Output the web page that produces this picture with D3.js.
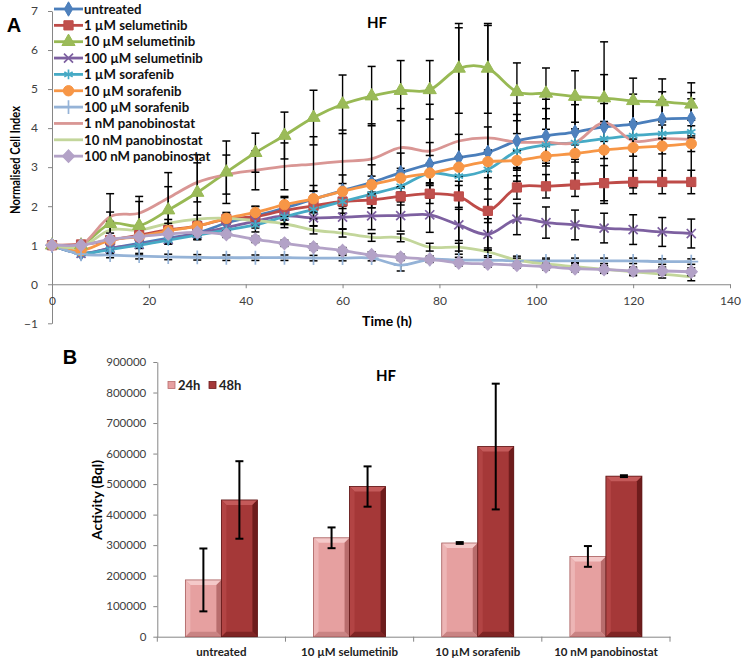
<!DOCTYPE html>
<html><head><meta charset="utf-8">
<script src="https://cdn.jsdelivr.net/npm/d3@7"></script>
<style>
body{margin:0;background:#fff}
svg{display:block}
text{font-family:Lato,"Open Sans",sans-serif}
</style>
</head><body>
<svg id="c" width="746" height="665"></svg>
<script>
// ---------- Panel A data ----------
const times = [0,6,12,18,24,30,36,42,48,54,60,66,72,78,84,90,96,102,108,114,120,126,132];
const seriesNames = ["untreated","1 µM selumetinib","10 µM selumetinib","100 µM selumetinib","1 µM sorafenib","10 µM sorafenib","100 µM sorafenib","1 nM panobinostat","10 nM panobinostat","100 nM panobinostat"];
const untreated = [1,0.79,0.92,1.05,1.18,1.31,1.57,1.75,1.95,2.18,2.40,2.61,2.86,3.08,3.24,3.38,3.67,3.80,3.90,4.03,4.10,4.23,4.25];
const selumetinib1 = [1,1.02,1.13,1.26,1.39,1.49,1.67,1.73,1.89,2.01,2.12,2.16,2.25,2.32,2.25,1.88,2.48,2.51,2.55,2.59,2.62,2.62,2.62];
const selumetinib10 = [1,1.0,1.55,1.5,1.9,2.35,2.87,3.37,3.81,4.27,4.61,4.82,4.96,4.98,5.53,5.53,4.93,4.89,4.81,4.77,4.70,4.67,4.61];
const selumetinib100 = [1,0.79,0.92,1.02,1.15,1.30,1.45,1.62,1.75,1.70,1.72,1.75,1.76,1.78,1.52,1.28,1.67,1.58,1.52,1.44,1.40,1.34,1.30];
const sorafenib1 = [1,0.79,0.89,1.0,1.13,1.26,1.39,1.52,1.73,1.92,2.12,2.31,2.51,2.85,2.77,2.94,3.41,3.57,3.63,3.73,3.81,3.86,3.90];
const sorafenib10 = [1,0.86,1.13,1.22,1.37,1.49,1.69,1.84,2.04,2.19,2.38,2.55,2.72,2.85,3.0,3.14,3.17,3.28,3.35,3.44,3.50,3.54,3.60];
const sorafenib100 = [1,0.77,0.75,0.72,0.70,0.69,0.68,0.68,0.68,0.67,0.67,0.67,0.49,0.64,0.62,0.62,0.60,0.60,0.60,0.60,0.60,0.58,0.58];
const panobinostat1 = [1,1.0,1.73,1.82,2.21,2.61,2.81,2.92,3.02,3.08,3.15,3.21,3.50,3.41,3.67,3.75,3.64,3.64,3.63,4.14,3.67,3.73,3.71];
const panobinostat10 = [1,0.96,1.39,1.39,1.56,1.67,1.69,1.63,1.55,1.39,1.31,1.20,1.19,0.95,0.95,0.83,0.62,0.52,0.45,0.38,0.32,0.26,0.19];
const panobinostat100 = [1,1.0,1.15,1.22,1.29,1.33,1.28,1.15,1.05,0.95,0.86,0.75,0.69,0.64,0.55,0.52,0.49,0.45,0.40,0.38,0.34,0.34,0.32];
// error bars (±)
const errUntreated = [0,0.05,0.08,0.1,0.12,0.15,0.2,0.25,0.3,0.35,0.4,0.45,0.5,0.55,0.6,0.65,0.68,0.7,0.7,0.6,0.55,0.5,0.5];
const errSelumetinib1 = [0,0.05,0.08,0.1,0.1,0.1,0.12,0.12,0.15,0.15,0.18,0.2,0.22,0.25,0.28,0.3,0.3,0.3,0.3,0.45,0.3,0.3,0.3];
const errSelumetinib10 = [0,0.05,0.77,0.75,0.6,0.97,0.8,0.5,0.6,0.7,0.75,0.76,0.77,0.75,1.15,1.15,0.74,0.65,0.66,0.6,0.58,0.59,0.55];
const errSelumetinib100 = [0,0.05,0.08,0.1,0.12,0.15,0.15,0.18,0.2,0.2,0.3,0.35,0.4,0.45,0.4,0.4,0.4,0.4,0.38,0.38,0.38,0.37,0.37];
const errSorafenib1 = [0,0.05,0.06,0.08,0.1,0.12,0.15,0.18,0.2,0.25,0.3,0.35,0.4,0.45,0.5,0.5,0.45,0.4,0.35,0.35,0.35,0.3,0.3];
const errSorafenib10 = [0,0.05,0.08,0.1,0.1,0.12,0.15,0.15,0.18,0.2,0.2,0.22,0.25,0.25,0.25,0.25,0.25,0.25,0.22,0.22,0.22,0.2,0.2];
const errSorafenib100 = [0,0.06,0.07,0.07,0.07,0.07,0.07,0.07,0.07,0.07,0.07,0.07,0.15,0.07,0.07,0.07,0.07,0.07,0.07,0.07,0.07,0.07,0.07];
const errPanobinostat1 = [0,0.05,0.12,0.3,0.65,0.5,0.5,0.5,0.6,0.7,0.8,0.9,1.0,1.2,2.9,2.88,1.0,1.1,1.1,2.07,1.2,1.2,1.2];
const errPanobinostat10 = [0,0.05,0.08,0.08,0.1,0.1,0.1,0.1,0.1,0.1,0.1,0.1,0.1,0.1,0.1,0.1,0.1,0.1,0.1,0.1,0.1,0.1,0.1];
const errPanobinostat100 = [0,0.05,0.08,0.08,0.08,0.08,0.08,0.08,0.08,0.08,0.08,0.08,0.08,0.08,0.08,0.08,0.08,0.08,0.08,0.08,0.1,0.1,0.1];
const xTicksA = [0,20,40,60,80,100,120,140];
const yTicksA = [-1,0,1,2,3,4,5,6,7];

// ---------- Panel B data ----------
const categoriesB = ["untreated","10 µM selumetinib","10 µM sorafenib","10 nM panobinostat"];
const seriesB = ["24h","48h"];
const values24h = [186000,324000,307000,263000];
const values48h = [448000,492000,623000,526000];
const err24h = [103000,34000,3000,34000];
const err48h = [127000,66000,206000,3000];
const yTicksB = [0,100000,200000,300000,400000,500000,600000,700000,800000,900000];

// ---------- styling ----------
const seriesStyle = [
  {color:"#4A7EBB", fill:"#4F81BD", marker:"diamond"},
  {color:"#BE4B48", fill:"#C0504D", marker:"square"},
  {color:"#98B954", fill:"#9BBB59", marker:"triangle"},
  {color:"#7D60A0", fill:"#8064A2", marker:"x"},
  {color:"#46AAC5", fill:"#4BACC6", marker:"asterisk"},
  {color:"#F79646", fill:"#F79646", marker:"circle"},
  {color:"#95B3D7", fill:"#95B3D7", marker:"plus"},
  {color:"#D99694", fill:"#D99694", marker:"none"},
  {color:"#C3D69B", fill:"#C3D69B", marker:"none"},
  {color:"#B3A2C7", fill:"#B3A2C7", marker:"diamondWide"}
];
const seriesVals = [untreated,selumetinib1,selumetinib10,selumetinib100,sorafenib1,sorafenib10,sorafenib100,panobinostat1,panobinostat10,panobinostat100];
const seriesErr = [errUntreated,errSelumetinib1,errSelumetinib10,errSelumetinib100,errSorafenib1,errSorafenib10,errSorafenib100,errPanobinostat1,errPanobinostat10,errPanobinostat100];

const svg = d3.select("#c");
const axisColor = "#868686";
const tickTextColor = "#404040";

// ================= Panel A =================
const xA = d3.scaleLinear().domain([0,140]).range([52,730]);
const yA = d3.scaleLinear().domain([-1,7]).range([323.3,11]);

const gA = svg.append("g");
const yAxA = gA.append("g").attr("transform",`translate(${xA(0)},0)`)
  .call(d3.axisLeft(yA).tickValues(yTicksA).tickSize(4).tickPadding(10).tickSizeOuter(0));
const xAxA = gA.append("g").attr("transform",`translate(0,${yA(0)})`)
  .call(d3.axisBottom(xA).tickValues(xTicksA).tickSize(4).tickPadding(8).tickSizeOuter(0));
[yAxA,xAxA].forEach(a=>{
  a.select(".domain").attr("stroke",axisColor);
  a.selectAll(".tick line").attr("stroke",axisColor);
  a.selectAll(".tick text").attr("fill",tickTextColor).style("font-size","12px").style("font-family","Lato, sans-serif");
});

function markerPath(type, size){
  const map = {diamond:d3.symbolDiamond, square:d3.symbolSquare, triangle:d3.symbolTriangle,
    circle:d3.symbolCircle, x:d3.symbolX, asterisk:d3.symbolAsterisk, plus:d3.symbolPlus, diamondWide:d3.symbolDiamond};
  return d3.symbol().type(map[type]).size(size)();
}
function drawMarker(g, st, cx, cy){
  const t = st.marker;
  if(t==="none") return;
  const sizes = {diamond:60, square:85, triangle:75, circle:85, x:55, asterisk:65, plus:65, diamondWide:55};
  const p = g.append("path").attr("d", markerPath(t, sizes[t]));
  if(t==="x"||t==="asterisk"||t==="plus"){
    p.attr("fill","none").attr("stroke",st.color).attr("stroke-width",1.7);
  } else {
    p.attr("fill",st.fill).attr("stroke",st.color).attr("stroke-width",1);
  }
  if(t==="diamondWide") p.attr("transform",`translate(${cx},${cy}) scale(1.5,0.9)`);
  else p.attr("transform",`translate(${cx},${cy})`);
}

const line = d3.line().x((d,i)=>xA(times[i])).y(d=>yA(d)).curve(d3.curveCatmullRom.alpha(0));
const linesG = gA.append("g");
const errG = gA.append("g");
const markG = gA.append("g");

seriesVals.forEach((vals,si)=>{
  const st = seriesStyle[si];
  linesG.append("path").datum(vals).attr("d",line)
    .attr("fill","none").attr("stroke",st.color).attr("stroke-width",2.8).attr("stroke-linejoin","round");
  const errs = seriesErr[si];
  vals.forEach((v,i)=>{
    const e = errs[i];
    if(!e) return;
    const cx = xA(times[i]);
    const y1 = yA(v+e), y2 = yA(v-e);
    errG.append("line").attr("x1",cx).attr("x2",cx).attr("y1",y1).attr("y2",y2).attr("stroke","#000").attr("stroke-width",1.4);
    [y1,y2].forEach(yy=>errG.append("line").attr("x1",cx-4).attr("x2",cx+4).attr("y1",yy).attr("y2",yy).attr("stroke","#000").attr("stroke-width",1.5));
  });
  vals.forEach((v,i)=>drawMarker(markG, st, xA(times[i]), yA(v)));
});

// legend
const legA = gA.append("g");
seriesNames.forEach((name,i)=>{
  const st = seriesStyle[i];
  const cy = 9 + i*16.35;
  legA.append("line").attr("x1",54).attr("x2",83).attr("y1",cy).attr("y2",cy).attr("stroke",st.color).attr("stroke-width",2.8);
  drawMarker(legA, st, 68.5, cy);
  legA.append("text").attr("x",84).attr("y",cy).attr("dy","0.36em").text(name)
    .style("font-size","13.2px").style("font-weight","bold").attr("fill","#111");
});

// titles
gA.append("text").attr("x",377).attr("y",23).attr("dy","0.36em").attr("text-anchor","middle").text("HF")
  .style("font-size","15px").style("font-weight","bold");
gA.append("text").attr("x",14).attr("y",25).attr("dy","0.36em").attr("text-anchor","middle").text("A")
  .style("font-size","20px").style("font-weight","bold").style("font-family","'Liberation Sans',Arial,sans-serif");
gA.append("text").attr("transform","translate(15,160) rotate(-90)").attr("dy","0.36em").attr("text-anchor","middle")
  .attr("textLength",108).attr("lengthAdjust","spacingAndGlyphs")
  .text("Normalised Cell Index").style("font-size","12.5px").style("font-weight","bold");
gA.append("text").attr("x",387).attr("y",321).attr("dy","0.36em").attr("text-anchor","middle").text("Time (h)")
  .style("font-size","14px").style("font-weight","bold");

// ================= Panel B =================
const x0 = d3.scaleBand().domain(categoriesB).range([157.3,670]).paddingInner(0).paddingOuter(0);
const x1 = d3.scaleBand().domain(seriesB).range([0,x0.bandwidth()]).paddingInner(0).paddingOuter(0.78);
const yB = d3.scaleLinear().domain([0,900000]).range([636.7,362]);
const gB = svg.append("g");

const yAxB = gB.append("g").attr("transform",`translate(157.3,0)`)
  .call(d3.axisLeft(yB).tickValues(yTicksB).tickFormat(d3.format("d")).tickSize(4).tickPadding(7).tickSizeOuter(0));
const xAxB = gB.append("g").attr("transform",`translate(0,${yB(0)})`)
  .call(d3.axisBottom(x0).tickSize(0).tickPadding(11).tickSizeOuter(0));
[yAxB,xAxB].forEach(a=>{
  a.select(".domain").attr("stroke",axisColor);
  a.selectAll(".tick line").attr("stroke",axisColor);
});
yAxB.selectAll(".tick text").attr("fill",tickTextColor).style("font-size","11.5px");
xAxB.selectAll(".tick text").attr("fill","#222").style("font-size","11.5px").style("font-weight","bold");
const bounds = categoriesB.map(c=>x0(c)).concat([x0.range()[1]]);
gB.append("g").selectAll("line").data(bounds).join("line")
  .attr("x1",d=>d).attr("x2",d=>d).attr("y1",yB(0)).attr("y2",yB(0)+5).attr("stroke",axisColor);

const barStyles = {
  "24h":{face:"#E6A0A0", top:"#F4C9C9", left:"#EDB5B5", right:"#B86C6C", bottom:"#C98383", edge:"#A86060"},
  "48h":{face:"#A53838", top:"#C45A5A", left:"#B24444", right:"#6E1C1C", bottom:"#7F2424", edge:"#5E1616"}
};
function drawBar(g, x, w, yTop, yBot, st){
  const b = 5;
  g.append("rect").attr("x",x).attr("y",yTop).attr("width",w).attr("height",yBot-yTop).attr("fill",st.face);
  g.append("path").attr("d",`M${x},${yTop}L${x+w},${yTop}L${x+w-b},${yTop+b}L${x+b},${yTop+b}Z`).attr("fill",st.top);
  g.append("path").attr("d",`M${x},${yTop}L${x+b},${yTop+b}L${x+b},${yBot-b}L${x},${yBot}Z`).attr("fill",st.left);
  g.append("path").attr("d",`M${x+w},${yTop}L${x+w},${yBot}L${x+w-b},${yBot-b}L${x+w-b},${yTop+b}Z`).attr("fill",st.right);
  g.append("path").attr("d",`M${x},${yBot}L${x+w},${yBot}L${x+w-b},${yBot-b}L${x+b},${yBot-b}Z`).attr("fill",st.bottom);
  g.append("rect").attr("x",x).attr("y",yTop).attr("width",w).attr("height",yBot-yTop).attr("fill","none").attr("stroke",st.edge).attr("stroke-width",0.8);
}
const barsG = gB.append("g");
const errBG = gB.append("g");
categoriesB.forEach((c,ci)=>{
  [["24h",values24h[ci],err24h[ci]],["48h",values48h[ci],err48h[ci]]].forEach(([s,v,e])=>{
    const bx = x0(c)+x1(s), bw = x1.bandwidth();
    drawBar(barsG, bx, bw, yB(v), yB(0), barStyles[s]);
    const cx = bx + bw/2;
    errBG.append("line").attr("x1",cx).attr("x2",cx).attr("y1",yB(v+e)).attr("y2",yB(v-e)).attr("stroke","#000").attr("stroke-width",2);
    [yB(v+e),yB(v-e)].forEach(yy=>errBG.append("line").attr("x1",cx-4).attr("x2",cx+4).attr("y1",yy).attr("y2",yy).attr("stroke","#000").attr("stroke-width",2));
  });
});

// legend B
const legB = gB.append("g");
seriesB.forEach((s,i)=>{
  const lx = [168,209][i];
  const st = barStyles[s];
  legB.append("rect").attr("x",lx).attr("y",381.5).attr("width",7).attr("height",7).attr("fill",st.face).attr("stroke",st.right).attr("stroke-width",0.8);
  legB.append("text").attr("x",lx+10).attr("y",385.3).attr("dy","0.36em").text(s).style("font-size","13px").style("font-weight","bold").attr("fill","#222");
});
gB.append("text").attr("x",386).attr("y",376).attr("dy","0.36em").attr("text-anchor","middle").text("HF")
  .style("font-size","15px").style("font-weight","bold");
gB.append("text").attr("x",70).attr("y",357).attr("dy","0.36em").attr("text-anchor","middle").text("B")
  .style("font-size","20px").style("font-weight","bold").style("font-family","'Liberation Sans',Arial,sans-serif");
gB.append("text").attr("transform","translate(97,500) rotate(-90)").attr("dy","0.36em").attr("text-anchor","middle")
  .text("Activity (Bql)").style("font-size","14px").style("font-weight","bold");
</script>
</body></html>
